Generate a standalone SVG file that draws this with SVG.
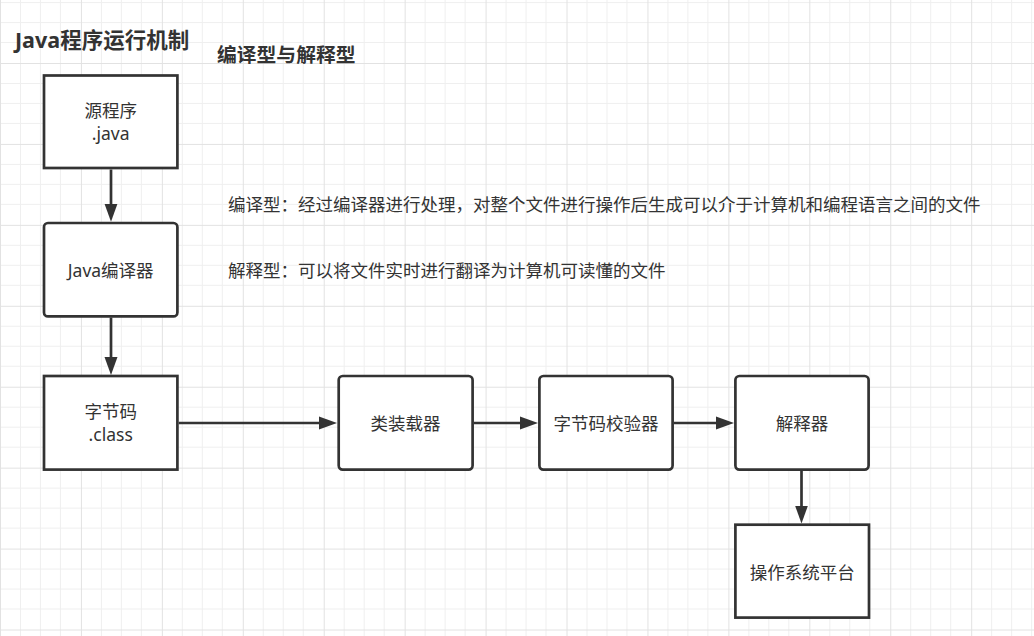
<svg xmlns="http://www.w3.org/2000/svg" width="1034" height="636" viewBox="0 0 1034 636">
<style>
.box{fill:#ffffff;stroke:#333333;stroke-width:2.7}
.lbl{font-family:"Noto Sans","Noto Sans CJK SC",sans-serif;font-size:17.5px;fill:#333333;text-anchor:middle;dominant-baseline:central}
.note{font-family:"Noto Sans","Noto Sans CJK SC",sans-serif;font-size:17.5px;fill:#333333;dominant-baseline:central}
.title{font-family:"Noto Sans","Noto Sans CJK SC",sans-serif;font-weight:bold;fill:#333333;dominant-baseline:central}
.conn{stroke:#333333;stroke-width:2.7;fill:none;marker-end:url(#arr)}
</style>
<defs>
<pattern id="grid" patternUnits="userSpaceOnUse" x="0" y="63" width="80.93" height="80.93">
<g shape-rendering="crispEdges" stroke-width="1">
<path d="M20.23,0V80.93M40.47,0V80.93M60.7,0V80.93M0,20.23H80.93M0,40.47H80.93M0,60.7H80.93" stroke="#efefef"/>
<path d="M0.5,0V80.93M0,0.5H80.93" stroke="#e2e2e2"/>
</g>
</pattern>
<marker id="arr" markerUnits="userSpaceOnUse" markerWidth="20" markerHeight="14" viewBox="0 0 20 14" refX="1" refY="7" orient="auto">
<path d="M0,0.5 L18,7 L0,13.5 z" fill="#333333"/>
</marker>
</defs>
<rect width="1034" height="636" fill="#ffffff"/>
<rect width="1034" height="636" fill="url(#grid)"/>

<g id="title">
<text class="title" x="15" y="39" font-size="21.5">Java程序运行机制</text>
</g>
<g id="subtitle">
<text class="title" x="217" y="54.5" font-size="19.8">编译型与解释型</text>
</g>
<g id="note-compile">
<text class="note" x="228" y="204">编译型：经过编译器进行处理，对整个文件进行操作后生成可以介于计算机和编程语言之间的文件</text>
</g>
<g id="note-interpret">
<text class="note" x="228" y="270">解释型：可以将文件实时进行翻译为计算机可读懂的文件</text>
</g>

<g id="connectors">
<path class="conn" d="M111,169.5 V204.7"/>
<path class="conn" d="M111,317.5 V358"/>
<path class="conn" d="M178.7,423 H320"/>
<path class="conn" d="M474,423 H521"/>
<path class="conn" d="M674,423 H717"/>
<path class="conn" d="M801.5,471 V506.5"/>
</g>

<g id="source">
<rect class="box" x="44" y="75.5" width="133.4" height="92.5"/>
<text class="lbl" x="110.7" y="109.5">源程序<tspan x="110.7" dy="23">.java</tspan></text>
</g>
<g id="compiler">
<rect class="box" x="44" y="223" width="133.4" height="93.4" rx="4"/>
<text class="lbl" x="110.7" y="270">Java编译器</text>
</g>
<g id="bytecode">
<rect class="box" x="44" y="376" width="133.4" height="93.6"/>
<text class="lbl" x="110.7" y="411">字节码<tspan x="110.7" dy="23">.class</tspan></text>
</g>
<g id="classloader">
<rect class="box" x="338.7" y="376" width="133.9" height="93.6" rx="4"/>
<text class="lbl" x="405.6" y="423">类装载器</text>
</g>
<g id="verifier">
<rect class="box" x="539.4" y="376" width="133.2" height="93.6" rx="4"/>
<text class="lbl" x="606" y="423">字节码校验器</text>
</g>
<g id="interpreter">
<rect class="box" x="735.4" y="376" width="133.2" height="93.6" rx="4"/>
<text class="lbl" x="802" y="423">解释器</text>
</g>
<g id="os">
<rect class="box" x="735.4" y="524.7" width="133.6" height="92.9"/>
<text class="lbl" x="802.2" y="571.5">操作系统平台</text>
</g>
</svg>
